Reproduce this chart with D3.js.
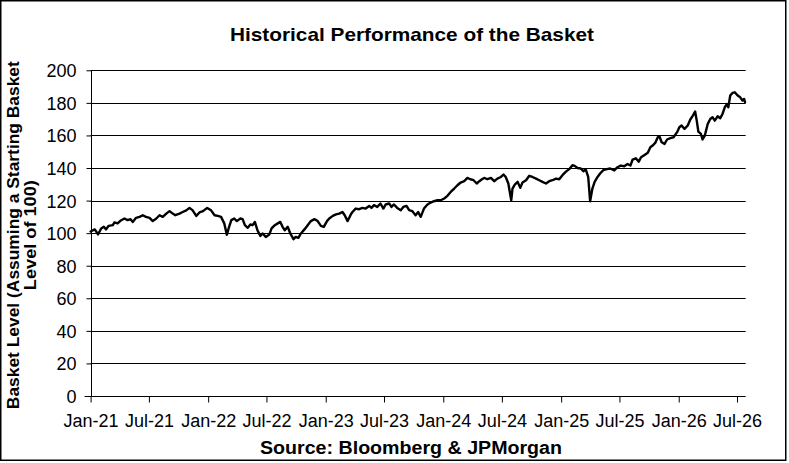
<!DOCTYPE html>
<html>
<head>
<meta charset="utf-8">
<script src="https://cdn.jsdelivr.net/npm/d3@7/dist/d3.min.js"></script>
<style>
  body { margin: 0; background: #fff; }
  text { font-family: "Liberation Sans", Arial, sans-serif; fill: #000; }
</style>
</head>
<body>
<script>
// ---- Data ----
const dates = [
"2021-01-01","2021-01-14","2021-01-24","2021-02-03","2021-02-11","2021-02-18","2021-02-26","2021-03-11","2021-03-16","2021-03-26",
"2021-04-05","2021-04-16","2021-04-26","2021-05-05","2021-05-12","2021-05-22","2021-06-02","2021-06-12","2021-06-22","2021-07-03",
"2021-07-13","2021-07-24","2021-08-03","2021-08-13","2021-08-24","2021-09-03","2021-09-13","2021-09-21","2021-10-04","2021-10-14",
"2021-10-25","2021-11-04","2021-11-14","2021-11-25","2021-12-05","2021-12-16","2021-12-29",
"2022-01-10","2022-01-21","2022-01-31","2022-02-10","2022-02-20","2022-02-28","2022-03-07","2022-03-14","2022-03-23","2022-03-31",
"2022-04-11","2022-04-18","2022-04-25","2022-05-04","2022-05-12","2022-05-19","2022-05-26","2022-06-03","2022-06-12","2022-06-19",
"2022-06-29","2022-07-10","2022-07-17","2022-07-27","2022-08-05","2022-08-13","2022-08-20","2022-08-27","2022-09-05","2022-09-13",
"2022-09-23","2022-09-30","2022-10-08","2022-10-16","2022-10-27","2022-11-06","2022-11-16","2022-11-27","2022-12-07","2022-12-17",
"2022-12-26",
"2023-01-05","2023-01-12","2023-01-23","2023-02-02","2023-02-12","2023-02-22","2023-03-01","2023-03-10","2023-03-20","2023-03-25",
"2023-04-04","2023-04-15","2023-04-25","2023-05-05","2023-05-16","2023-05-23","2023-05-31","2023-06-10","2023-06-20","2023-06-29",
"2023-07-06","2023-07-17","2023-07-24","2023-08-01","2023-08-11","2023-08-22","2023-08-30","2023-09-09","2023-09-17","2023-09-27",
"2023-10-07","2023-10-15","2023-10-23","2023-11-02","2023-11-13","2023-11-23","2023-12-03","2023-12-14","2023-12-24",
"2024-01-04","2024-01-14","2024-01-24","2024-02-04","2024-02-14","2024-02-24","2024-03-06","2024-03-16","2024-03-25","2024-04-04",
"2024-04-14","2024-04-22","2024-04-30","2024-05-07","2024-05-17","2024-05-28","2024-06-07","2024-06-17","2024-06-28","2024-07-06",
"2024-07-13","2024-07-21","2024-07-30","2024-08-03","2024-08-10","2024-08-19","2024-08-27","2024-09-03","2024-09-14","2024-09-24",
"2024-10-04","2024-10-15","2024-10-25","2024-11-04","2024-11-15","2024-11-25","2024-12-05","2024-12-16","2024-12-26",
"2025-01-05","2025-01-15","2025-01-26","2025-02-05","2025-02-12","2025-02-21","2025-03-03","2025-03-11","2025-03-18","2025-03-26",
"2025-04-01","2025-04-08","2025-04-15","2025-04-24","2025-05-02","2025-05-12","2025-05-23","2025-06-02","2025-06-15","2025-06-25",
"2025-07-05","2025-07-16","2025-07-26","2025-08-04","2025-08-11","2025-08-21","2025-08-30","2025-09-06","2025-09-17","2025-09-27",
"2025-10-05","2025-10-12","2025-10-20","2025-10-28","2025-11-02","2025-11-09","2025-11-18","2025-11-26","2025-12-06","2025-12-16",
"2025-12-27",
"2026-01-03","2026-01-10","2026-01-19","2026-01-29","2026-02-06","2026-02-14","2026-02-21","2026-02-26","2026-03-03","2026-03-11",
"2026-03-16","2026-03-23","2026-04-01","2026-04-09","2026-04-16","2026-04-23","2026-05-02","2026-05-10","2026-05-17","2026-05-24",
"2026-05-31","2026-06-04","2026-06-10","2026-06-17","2026-06-24","2026-07-03","2026-07-11","2026-07-18","2026-07-23","2026-07-26"
];

const basketLevel = [
101,102.3,99.2,102.9,103.9,102.3,104.5,104.9,106.6,106,
107.8,109,108,108.6,106.9,109.4,110,111,110,109.4,
107.4,109,111,110,112,113.5,112,111,112,113,
114,115.5,114,110.6,112.7,113.5,115.5,
114,111,110.6,110,106,99,103.9,108,109,107.4,
109,108.6,104.9,103.3,105.3,104.9,106.9,101.8,98.3,99.8,
97.7,99.2,102.9,104.9,106,106.9,103.9,101.8,103.9,99.8,
96.3,97.7,97.1,99.8,102.3,104.9,107.4,108.6,107.4,104.5,
103.9,
107.4,109,110.6,111.5,112,113,111,107.4,111.5,113,
115.1,114.7,115.5,115.1,116.7,115.5,117.2,116.1,118.2,115.1,
117.6,118.2,116.1,117.6,115.5,114.1,116.1,116.7,114.1,113.5,
111,113,110,115.1,117.6,118.8,119.6,120.2,120.2,
121.3,122.9,125.3,127.4,129.4,131.1,131.9,133.9,133.1,132.5,
130.5,131.9,133.1,133.9,133.1,133.9,131.9,133.5,134.5,136,
134.5,130.5,120.2,127.4,129.8,131.5,127.8,131.1,132.5,135.2,
134.5,133.5,132.5,131.5,130.5,131.9,132.5,133.5,133.1,
135.6,137.6,139.3,141.7,141.3,140,139.7,138,139.3,134.5,
119.6,127.4,131.5,134.5,136.6,138.7,139.3,139.7,138.5,140.5,
141.5,141.1,142.5,141.5,145.2,146,143.9,146.6,148,149.3,
152.8,153.8,155.4,158.9,159.5,155.8,154.8,157.5,158.3,158.9,
162,
165,166.1,164,166.1,169.8,172.2,174.7,169.1,162.4,160.9,
157.5,159.9,167,170.1,171.2,169.1,171.8,170.6,173.2,177.3,
179.3,177.3,184.5,186.1,186.5,184.5,183.4,181.4,182.4,180.5
];

const xTickDates = ["2021-01-01","2021-07-01","2022-01-01","2022-07-01","2023-01-01","2023-07-01",
                    "2024-01-01","2024-07-01","2025-01-01","2025-07-01","2026-01-01","2026-07-01"];
const xTickLabels = ["Jan-21","Jul-21","Jan-22","Jul-22","Jan-23","Jul-23",
                     "Jan-24","Jul-24","Jan-25","Jul-25","Jan-26","Jul-26"];
const yTicks = [0,20,40,60,80,100,120,140,160,180,200];
const xDomain = ["2021-01-01","2026-07-28"];

const titleText = "Historical Performance of the Basket";
const yTitleLines = ["Basket Level (Assuming a Starting Basket", "Level of 100)"];
const sourceText = "Source: Bloomberg & JPMorgan";

// ---- Drawing ----
(function () {
const W = 789, H = 463;
const parse = d3.utcParse("%Y-%m-%d");
const series = dates.map((d, i) => ({ date: parse(d), value: basketLevel[i] }));

const pLeft = 90.6, pRight = 745.7, pTop = 70.3, pBottom = 396;

const x = d3.scaleUtc().domain(xDomain.map(parse)).range([pLeft, pRight]);
const y = d3.scaleLinear().domain([0, 200]).range([pBottom, pTop]);

const svg = d3.select("body").append("svg").attr("width", W).attr("height", H);

svg.append("rect").attr("x", 0.75).attr("y", 0.75).attr("width", 785).attr("height", 459.5)
  .attr("fill", "#fff").attr("stroke", "#000").attr("stroke-width", 1.5);

// horizontal gridlines
svg.append("g").selectAll("line").data(yTicks.filter(v => v > 0)).join("line")
  .attr("x1", pLeft).attr("x2", pRight)
  .attr("y1", d => Math.round(y(d)) + 0.5).attr("y2", d => Math.round(y(d)) + 0.5)
  .attr("stroke", "#000").attr("stroke-width", 1);

// y axis
const yAxis = d3.axisLeft(y).tickValues(yTicks).tickSize(5).tickPadding(10).tickFormat(d3.format("d"));
const gy = svg.append("g").attr("transform", `translate(${Math.round(pLeft) + 0.5},0)`).call(yAxis);
gy.select(".domain").attr("stroke", "#000").attr("d", `M0,${y(200)}V${y(0)}`);
gy.selectAll(".tick line").attr("stroke", "#000");
gy.selectAll(".tick text").attr("font-size", 18).attr("font-family", "Liberation Sans, Arial, sans-serif").attr("dy", "0.36em");

// x axis
const xAxis = d3.axisBottom(x).tickValues(xTickDates.map(parse)).tickSize(6).tickPadding(12)
  .tickFormat((d, i) => xTickLabels[i]);
const gx = svg.append("g").attr("transform", `translate(0,${Math.round(pBottom) + 0.5})`).call(xAxis);
gx.select(".domain").attr("stroke", "#000").attr("d", `M${pLeft - 6},0H${pRight}`);
gx.selectAll(".tick line").attr("stroke", "#000");
gx.selectAll(".tick text").attr("font-size", 18).attr("font-family", "Liberation Sans, Arial, sans-serif");

// line
const line = d3.line().x(d => x(d.date)).y(d => y(d.value));
svg.append("path").datum(series).attr("d", line)
  .attr("fill", "none").attr("stroke", "#000").attr("stroke-width", 2.4)
  .attr("stroke-linejoin", "round").attr("stroke-linecap", "round");

// title
svg.append("text").attr("x", 412).attr("y", 40.5).attr("text-anchor", "middle")
  .attr("font-size", 19).attr("font-weight", "bold")
  .attr("textLength", 364).attr("lengthAdjust", "spacingAndGlyphs").text(titleText);

// y title
const yc = (pTop + pBottom) / 2 + 2;
svg.append("text").attr("transform", `translate(19,${yc}) rotate(-90)`)
  .attr("text-anchor", "middle").attr("font-size", 16.5).attr("font-weight", "bold")
  .attr("textLength", 348).attr("lengthAdjust", "spacingAndGlyphs").text(yTitleLines[0]);
svg.append("text").attr("transform", `translate(35.5,${yc}) rotate(-90)`)
  .attr("text-anchor", "middle").attr("font-size", 16.5).attr("font-weight", "bold")
  .attr("textLength", 110).attr("lengthAdjust", "spacingAndGlyphs").text(yTitleLines[1]);

// source
svg.append("text").attr("x", 411).attr("y", 453.5).attr("text-anchor", "middle")
  .attr("font-size", 18).attr("font-weight", "bold")
  .attr("textLength", 302).attr("lengthAdjust", "spacingAndGlyphs").text(sourceText);
})();
</script>
</body>
</html>
